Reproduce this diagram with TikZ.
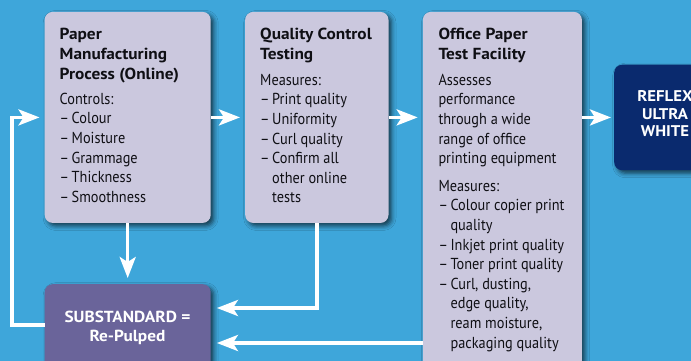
\documentclass[tikz,border=0pt]{standalone}
\usepackage{fontspec}
\setmainfont{PT Sans}
\newfontfamily\bodyfont{PT Sans}[FakeStretch=0.9]
\newfontfamily\headfont{PT Sans}[FakeStretch=1.08]
\usetikzlibrary{arrows.meta,shadows.blur,calc}
\definecolor{bgblue}{RGB}{62,166,218}
\definecolor{lav}{RGB}{203,200,222}
\definecolor{purp}{RGB}{106,100,154}
\definecolor{navy}{RGB}{10,42,110}
\definecolor{ink}{RGB}{15,15,20}
\newcommand{\fst}{\rule{0pt}{14pt}}
\newcommand{\dsh}{–\hspace{2.6pt}}
\newcommand{\ind}{\phantom{–}\hspace{2.6pt}}
\tikzset{
  panel/.style={rounded corners=8pt, inner sep=0pt, anchor=north west,
    blur shadow={shadow xshift=3pt, shadow yshift=-3pt, shadow opacity=65, shadow blur radius=4.5pt}},
  lavbox/.style={panel, fill=lav},
  ttl/.style={anchor=north west, inner sep=0pt, align=left, text=ink,
    font=\headfont\bfseries\fontsize{16}{20}\selectfont},
  bdy/.style={anchor=north west, inner sep=0pt, align=left, text=ink,
    font=\bodyfont\fontsize{15.9}{19.6}\selectfont},
  wtxt/.style={anchor=north, inner sep=0pt, align=center, text=white,
    font=\headfont\bfseries\fontsize{16}{19}\selectfont},
  arr/.style={draw=white, line width=3.5pt,
    -{Stealth[length=21pt,width=16pt,inset=5pt]}}
}
\begin{document}
\begin{tikzpicture}[x=1pt,y=-1pt]
\useasboundingbox (0,0) rectangle (691,360);
\clip (0,0) rectangle (691,360);
\fill[bgblue] (-5,-5) rectangle (700,370);
% boxes
\node[lavbox, minimum width=166pt, minimum height=211pt] (b1) at (44.5,11.7) {};
\node[lavbox, minimum width=143.3pt, minimum height=211pt] (b2) at (245,11.7) {};
\node[lavbox, minimum width=159pt, minimum height=380pt] (b3) at (422.7,11.7) {};
\node[panel, fill=navy, minimum width=100pt, minimum height=105.5pt] (rf) at (614,64.5) {};
\node[panel, fill=purp, minimum width=166pt, minimum height=110pt] (sub) at (44.5,284) {};
% texts
\node[ttl] (t1) at (59.5,25.3) {\fst Paper\\Manufacturing\\Process (Online)};
\node[bdy] (d1) at (59.5,90) {\fst Controls:\\\dsh Colour\\\dsh Moisture\\\dsh Grammage\\\dsh Thickness\\\dsh Smoothness};
\node[ttl] (t2) at (260,25.3) {\fst Quality Control\\Testing};
\node[bdy] (d2) at (260,71) {\fst Measures:\\\dsh Print quality\\\dsh Uniformity\\\dsh Curl quality\\\dsh Confirm all\\\ind other online\\\ind tests};
\node[ttl] (t3) at (438.3,25.3) {\fst Office Paper\\Test Facility};
\node[bdy] (d3) at (438.3,71) {\fst Assesses\\performance\\through a wide\\range of office\\printing equipment\\[8pt]Measures:\\\dsh Colour copier print\\\ind quality\\\dsh Inkjet print quality\\\dsh Toner print quality\\\dsh Curl, dusting,\\\ind edge quality,\\\ind ream moisture,\\\ind packaging quality};
\node[wtxt, font=\headfont\bfseries\fontsize{15.5}{17.5}\selectfont] (tr) at (665,87.7) {\fst REFLEX\\ULTRA\\WHITE};
\node[wtxt] (ts) at (127.5,308.7) {\fst SUBSTANDARD =\\Re-Pulped};
% connectors
\coordinate (lp) at (12,0);
\draw[arr, shorten >=5pt] (b1) -- (b2);
\draw[arr, shorten >=5pt] (b2.east) -- (b2.east -| b3.west);
\draw[arr, shorten >=3pt] (b3.east |- rf.west) -- (rf.west);
\draw[arr, shorten >=6pt] (b1.south) -- (sub.north);
\draw[arr, shorten >=6pt] (b2.south) |- (sub.east |- 0,308);
\draw[arr, shorten >=6pt] (b3.west |- 0,343) -- (sub.east |- 0,343);
\draw[arr, shorten >=5pt] (sub.west |- 0,325) -- (lp |- 0,325) -- (lp |- b1.west) -- (b1.west);
\end{tikzpicture}
\end{document}
